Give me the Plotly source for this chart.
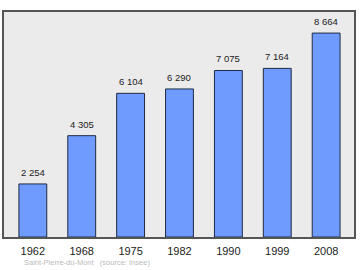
import plotly.graph_objects as go

years = ["1962", "1968", "1975", "1982", "1990", "1999", "2008"]
population = [2254, 4305, 6104, 6290, 7075, 7164, 8664]
labels = [f"{v:,}".replace(",", " ") for v in population]
source_text = "Saint-Pierre-du-Mont   (source: Insee)"

fig = go.Figure(go.Bar(
    x=years, y=population,
    marker=dict(color="#6f9bff", line=dict(color="#1f2a44", width=1)),
    width=0.57,
))
annots = [dict(x=i, y=v, text=t, xref="x", yref="y", yanchor="bottom", yshift=4,
               showarrow=False, font=dict(size=9.5, color="#222222"))
          for i, (v, t) in enumerate(zip(population, labels))]
annots.append(dict(text=source_text, xref="paper", yref="paper", x=0.051, y=0,
                   xanchor="left", yanchor="middle", yshift=-25, showarrow=False,
                   font=dict(size=7.5, color="#bbbbbb")))
fig.update_layout(
    width=360, height=270,
    margin=dict(l=4, r=4, t=12, b=33),
    paper_bgcolor="white", plot_bgcolor="#ebebeb",
    showlegend=False,
    font=dict(family="Liberation Sans, Arial"),
    xaxis=dict(type="category", range=[-0.59, 6.57], showline=True, linecolor="#555555",
               linewidth=1.5, mirror=True, ticks="", ticklabelstandoff=3,
               tickfont=dict(size=11, color="#222222"), showgrid=False),
    yaxis=dict(range=[0, 9560], showline=True, linecolor="#555555", linewidth=1.5,
               mirror=True, showticklabels=False, ticks="", showgrid=False, zeroline=False),
    annotations=annots,
)
fig.write_html("out.html")
